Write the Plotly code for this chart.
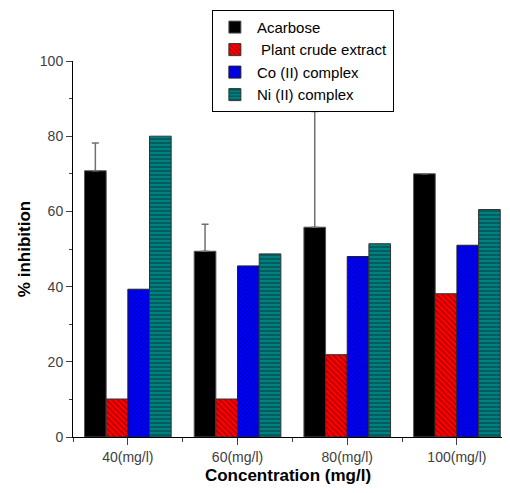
import plotly.graph_objects as go

categories = ["40(mg/l)", "60(mg/l)", "80(mg/l)", "100(mg/l)"]
acarbose = [70.8, 49.4, 55.8, 70.0]
acarbose_err = [7.4, 7.2, 30.8, None]
plant = [10.1, 10.1, 21.9, 38.1]
co_complex = [39.3, 45.5, 48.0, 51.0]
ni_complex = [80.0, 48.7, 51.4, 60.5]
yticks = [0, 20, 40, 60, 80, 100]

xpos = list(range(len(categories)))

fig = go.Figure()
fig.add_trace(go.Bar(
    x=xpos, y=acarbose, name="Acarbose",
    marker=dict(color="black", line=dict(color="#555", width=1)),
    error_y=dict(type="data", array=acarbose_err, symmetric=False,
                 arrayminus=[0, 0, 0, 0], color="#707070", thickness=1.5, width=3.5),
))
fig.add_trace(go.Bar(
    x=xpos, y=plant, name=" Plant crude extract",
    marker=dict(color="#ff0000", line=dict(color="#333", width=1),
                pattern=dict(shape="\\", fgcolor="#300000", size=4, solidity=0.3)),
))
fig.add_trace(go.Bar(
    x=xpos, y=co_complex, name="Co (II) complex",
    marker=dict(color="#0000ff", line=dict(color="#222", width=1),
                pattern=dict(shape="x", fgcolor="#000030", size=3, solidity=0.35)),
))
fig.add_trace(go.Bar(
    x=xpos, y=ni_complex, name="Ni (II) complex",
    marker=dict(color="#008080", line=dict(color="#333", width=1),
                pattern=dict(shape="-", fgcolor="#001a1a", size=4, solidity=0.35)),
))

fig.update_layout(
    width=502, height=477,
    margin=dict(l=65, r=7, t=53, b=48, autoexpand=False),
    paper_bgcolor="white", plot_bgcolor="white",
    barmode="group", bargap=0.21, bargroupgap=0,
    font=dict(family="Arial, Liberation Sans", color="#404040"),
    showlegend=True,
    legend=dict(
        x=0.323, y=1.136, xanchor="left", yanchor="top",
        bordercolor="black", borderwidth=1, bgcolor="white",
        font=dict(size=15, color="black"),
        itemwidth=34, tracegroupgap=0,
    ),
    xaxis=dict(
        range=[-0.5, 3.42],
        tickmode="array", tickvals=xpos, ticktext=categories,
        ticks="outside", ticklen=7, tickcolor="#404040", tickwidth=1,
        minor=dict(ticks="outside", ticklen=4, dtick=0.5, tick0=-0.5, tickcolor="#404040"),
        showline=True, linecolor="black", linewidth=1,
        showgrid=False, zeroline=False,
        tickfont=dict(size=14, color="#404040"),
        title=dict(text="<b>Concentration (mg/l)</b>", font=dict(size=17, color="black"), standoff=17),
    ),
    yaxis=dict(
        range=[0, 100],
        tickmode="array", tickvals=yticks,
        ticks="outside", ticklen=6, tickcolor="#404040", tickwidth=1,
        minor=dict(ticks="outside", ticklen=3, dtick=10, tick0=0, tickcolor="#404040"),
        showline=True, linecolor="black", linewidth=1,
        showgrid=False, zeroline=False,
        tickfont=dict(size=14, color="#404040"),
        title=dict(text="<b>% inhibition</b>", font=dict(size=17, color="black"), standoff=4),
    ),
)

fig.write_html("out.html")
